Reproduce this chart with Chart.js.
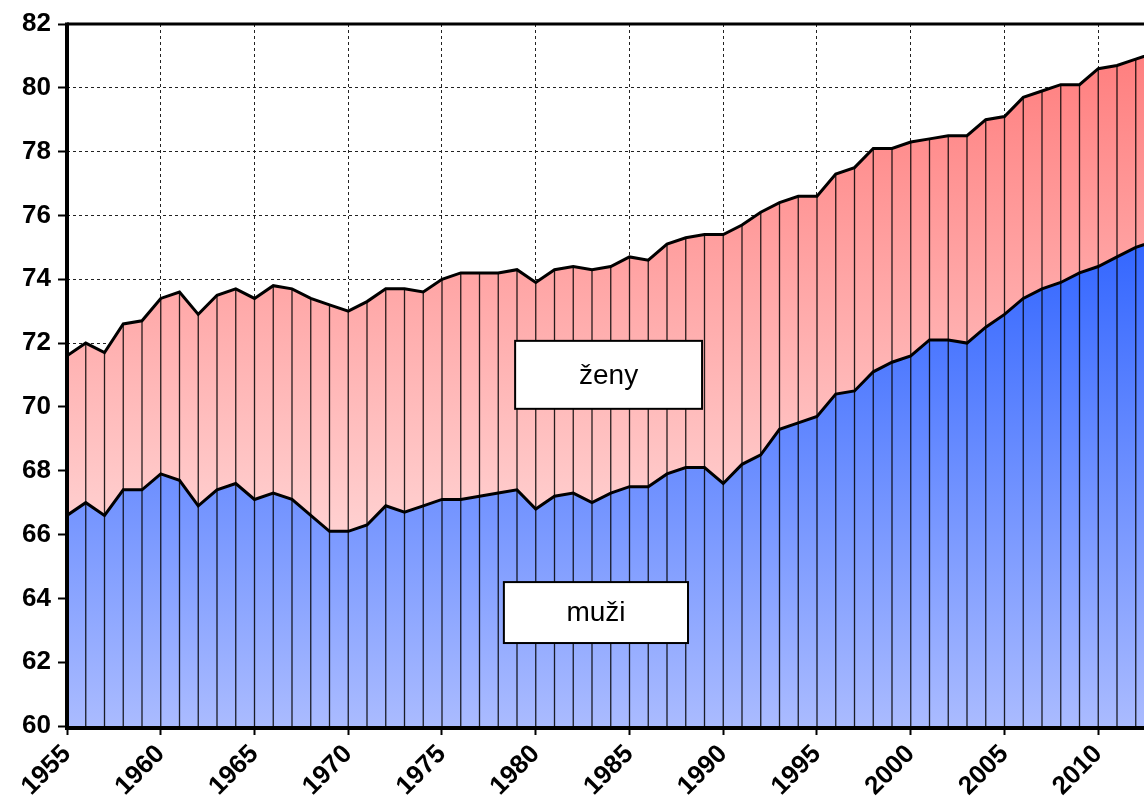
<!DOCTYPE html>
<html>
<head>
<meta charset="utf-8">
<script src="https://cdn.jsdelivr.net/npm/chart.js@4/dist/chart.umd.min.js"></script>
<style>
  html, body { margin: 0; padding: 0; background: #fff; }
  #wrap { width: 1144px; height: 801px; }
</style>
</head>
<body>
<div id="wrap"><canvas id="c" width="1144" height="801"></canvas></div>
<script>
const years = [1955,1956,1957,1958,1959,1960,1961,1962,1963,1964,1965,1966,1967,1968,1969,1970,1971,1972,1973,1974,1975,1976,1977,1978,1979,1980,1981,1982,1983,1984,1985,1986,1987,1988,1989,1990,1991,1992,1993,1994,1995,1996,1997,1998,1999,2000,2001,2002,2003,2004,2005,2006,2007,2008,2009,2010,2011,2012,2013];
const men = [66.6,67.0,66.6,67.4,67.4,67.9,67.7,66.9,67.4,67.6,67.1,67.3,67.1,66.6,66.1,66.1,66.3,66.9,66.7,66.9,67.1,67.1,67.2,67.3,67.4,66.8,67.2,67.3,67.0,67.3,67.5,67.5,67.9,68.1,68.1,67.6,68.2,68.5,69.3,69.5,69.7,70.4,70.5,71.1,71.4,71.6,72.1,72.1,72.0,72.5,72.9,73.4,73.7,73.9,74.2,74.4,74.7,75.0,75.2];
const women = [71.6,72.0,71.7,72.6,72.7,73.4,73.6,72.9,73.5,73.7,73.4,73.8,73.7,73.4,73.2,73.0,73.3,73.7,73.7,73.6,74.0,74.2,74.2,74.2,74.3,73.9,74.3,74.4,74.3,74.4,74.7,74.6,75.1,75.3,75.4,75.4,75.7,76.1,76.4,76.6,76.6,77.3,77.5,78.1,78.1,78.3,78.4,78.5,78.5,79.0,79.1,79.7,79.9,80.1,80.1,80.6,80.7,80.9,81.1];
const seriesNames = ['muži', 'ženy'];
const yTicks = [60,62,64,66,68,70,72,74,76,78,80,82];
const xTickStep = 5;

const FONT = "'Liberation Sans', Arial, sans-serif";

function grad(ctx, topVal, topColor, bottomColor) {
  const chart = ctx.chart;
  const area = chart.chartArea;
  if (!area) return topColor;
  const yTop = chart.scales.y.getPixelForValue(topVal);
  const g = chart.ctx.createLinearGradient(0, yTop, 0, area.bottom);
  g.addColorStop(0, topColor);
  g.addColorStop(1, bottomColor);
  return g;
}

const overlay = {
  id: 'overlay',
  beforeDatasetsDraw(chart) {
    const {ctx, chartArea: a, scales: {x, y}} = chart;
    ctx.save();
    ctx.beginPath();
    ctx.rect(a.left, a.top, a.right - a.left, a.bottom - a.top);
    ctx.clip();
    ctx.strokeStyle = 'rgba(0,0,0,0.85)';
    ctx.lineWidth = 1.3;
    years.forEach((yr, i) => {
      const px = x.getPixelForValue(yr);
      if (px < a.left - 1 || px > a.right + 1) return;
      ctx.beginPath();
      ctx.moveTo(px, y.getPixelForValue(women[i]));
      ctx.lineTo(px, a.bottom);
      ctx.stroke();
    });
    ctx.restore();
  },
  afterDatasetsDraw(chart) {
    const {ctx, chartArea: a, scales: {x, y}} = chart;
    ctx.save();
    ctx.strokeStyle = '#000';
    ctx.lineWidth = 3;
    ctx.beginPath();
    ctx.moveTo(a.left, a.top);
    ctx.lineTo(a.right, a.top);
    ctx.stroke();
    ctx.lineWidth = 4;
    ctx.beginPath();
    ctx.moveTo(a.left, a.top - 1.5);
    ctx.lineTo(a.left, a.bottom + 2);
    ctx.lineTo(a.right, a.bottom + 2);
    ctx.stroke();

    const boxes = [
      {text: seriesNames[1], x0: 1978.9, x1: 1988.87, y0: 72.07, y1: 69.94},
      {text: seriesNames[0], x0: 1978.3, x1: 1988.12, y0: 64.51, y1: 62.6}
    ];
    boxes.forEach(b => {
      const l = x.getPixelForValue(b.x0), r = x.getPixelForValue(b.x1);
      const t = y.getPixelForValue(b.y0), bt = y.getPixelForValue(b.y1);
      ctx.fillStyle = '#fff';
      ctx.fillRect(l, t, r - l, bt - t);
      ctx.lineWidth = 2;
      ctx.strokeStyle = '#000';
      ctx.strokeRect(l, t, r - l, bt - t);
      ctx.fillStyle = '#000';
      ctx.font = "28px " + FONT;
      ctx.textAlign = 'center';
      ctx.textBaseline = 'middle';
      ctx.fillText(b.text, (l + r) / 2, (t + bt) / 2 + 1);
    });
    ctx.restore();
  }
};

new Chart(document.getElementById('c'), {
  type: 'line',
  data: {
    datasets: [
      {
        label: seriesNames[0],
        data: years.map((yr, i) => ({x: yr, y: men[i]})),
        borderColor: '#000',
        borderWidth: 3,
        pointRadius: 0,
        tension: 0,
        fill: 'start',
        backgroundColor: ctx => grad(ctx, 75.2, '#3366FF', '#AABBFF')
      },
      {
        label: seriesNames[1],
        data: years.map((yr, i) => ({x: yr, y: women[i]})),
        borderColor: '#000',
        borderWidth: 3,
        pointRadius: 0,
        tension: 0,
        fill: '-1',
        backgroundColor: ctx => grad(ctx, 81.0, '#FF7F7F', '#FFF2F2')
      }
    ]
  },
  options: {
    responsive: false,
    animation: false,
    devicePixelRatio: 1,
    layout: { padding: { top: 24, right: 0, bottom: 0, left: 0 } },
    plugins: {
      legend: { display: false },
      tooltip: { enabled: false },
      filler: { drawTime: 'beforeDatasetsDraw' }
    },
    scales: {
      x: {
        type: 'linear',
        min: 1955,
        max: 2012.44,
        afterFit(s) { s.height = 75; },
        ticks: {
          stepSize: xTickStep,
          includeBounds: false,
          autoSkip: false,
          minRotation: 45,
          maxRotation: 45,
          padding: 4,
          color: '#000',
          font: { family: FONT, size: 26, weight: 'bold' },
          callback: v => (v % xTickStep === 0 ? String(v) : '')
        },
        grid: {
          color: '#222',
          lineWidth: 1,
          drawTicks: true,
          tickLength: 9,
          tickColor: '#000',
          tickWidth: 2,
          tickBorderDash: []
        },
        border: { display: false, dash: [3, 3] }
      },
      y: {
        type: 'linear',
        min: yTicks[0],
        max: yTicks[yTicks.length - 1],
        afterFit(s) { s.width = 67; },
        afterBuildTicks(s) { s.ticks = yTicks.map(v => ({value: v})); },
        ticks: {
          stepSize: 2,
          padding: 7,
          color: '#000',
          font: { family: FONT, size: 26, weight: 'bold' },
          callback: v => String(v)
        },
        grid: {
          color: '#222',
          lineWidth: 1,
          drawTicks: true,
          tickLength: 9,
          tickColor: '#000',
          tickWidth: 2,
          tickBorderDash: []
        },
        border: { display: false, dash: [3, 3] }
      }
    }
  },
  plugins: [overlay]
});
</script>
</body>
</html>
